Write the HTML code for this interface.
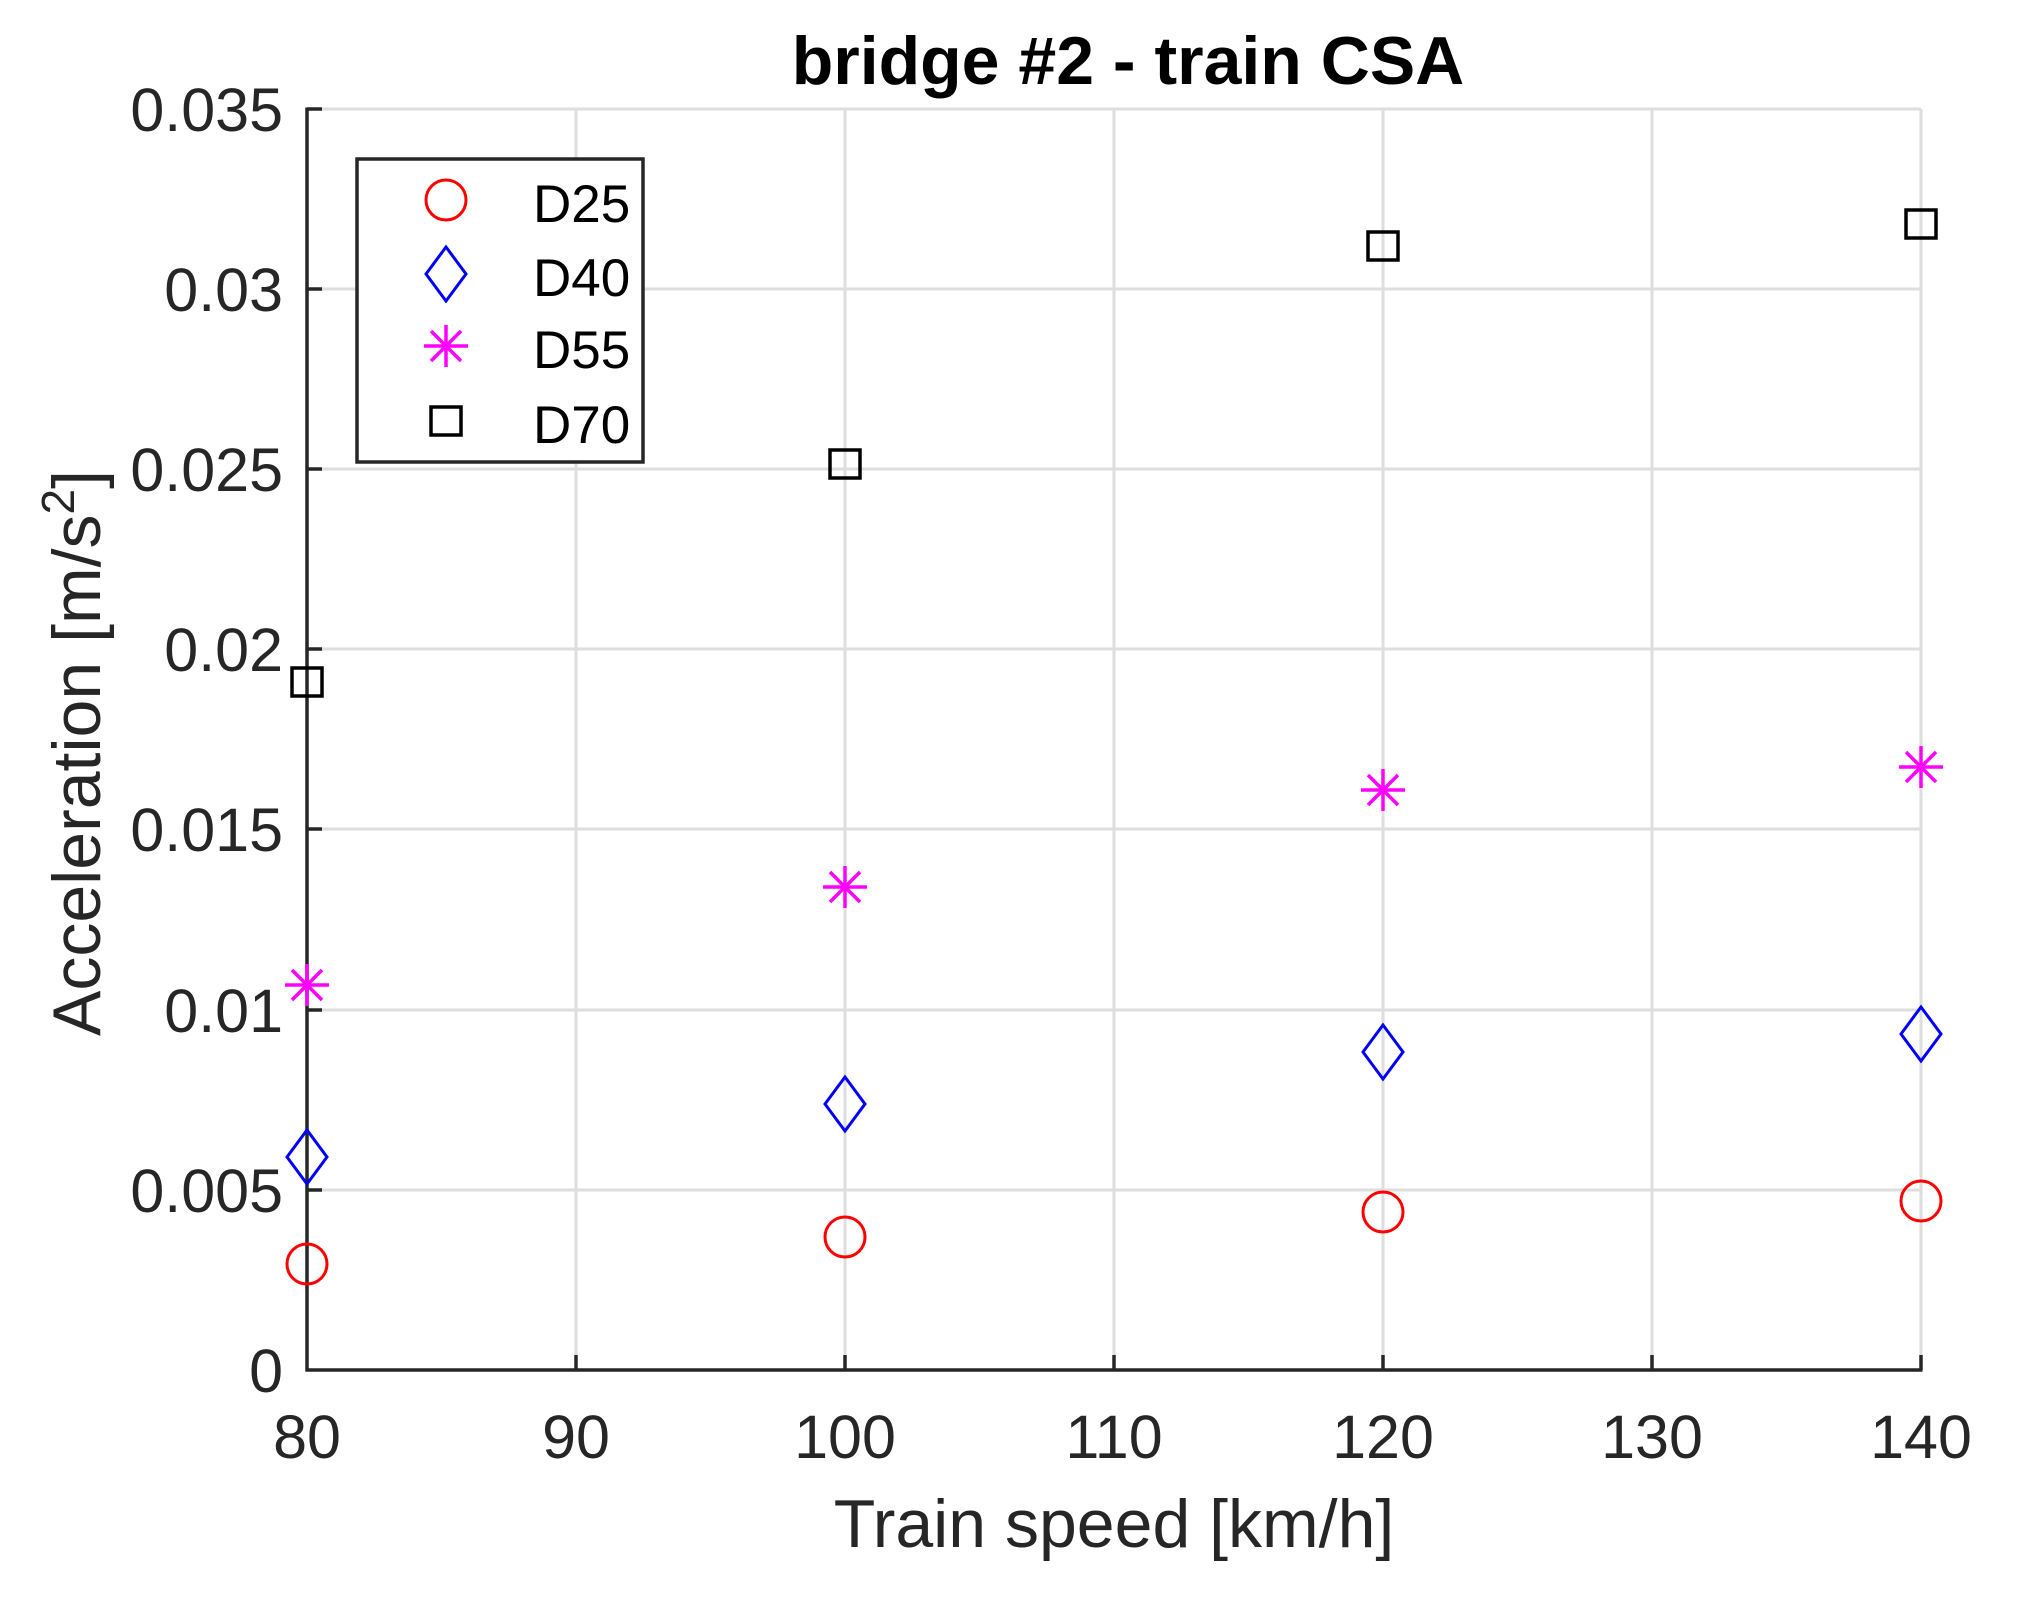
<!DOCTYPE html>
<html><head><meta charset="utf-8"><style>html,body{margin:0;padding:0;background:#fff}svg{display:block}</style></head>
<body>
<svg width="2033" height="1600" viewBox="0 0 2033 1600" xmlns="http://www.w3.org/2000/svg" font-family="Liberation Sans, Arial, sans-serif">
<defs>
<g id="circ"><circle cx="0" cy="0" r="20" fill="none" stroke="#ff0000" stroke-width="3"/></g>
<g id="dia"><path d="M0,-27 L20,0 L0,27 L-20,0 Z" fill="none" stroke="#0000ff" stroke-width="3"/></g>
<g id="star" stroke="#ff00ff" stroke-width="3.5"><line x1="-22" y1="0" x2="22" y2="0"/><line x1="0" y1="-21" x2="0" y2="21"/><line x1="-15" y1="-15" x2="15" y2="15"/><line x1="-15" y1="15" x2="15" y2="-15"/></g>
<g id="sq"><rect x="-15" y="-14" width="30" height="28" fill="none" stroke="#000" stroke-width="3.5"/></g>
</defs>
<rect width="2033" height="1600" fill="#fff"/>
<g stroke="#dedede" stroke-width="3">
<line x1="576" y1="109" x2="576" y2="1370"/><line x1="845" y1="109" x2="845" y2="1370"/><line x1="1114" y1="109" x2="1114" y2="1370"/><line x1="1383" y1="109" x2="1383" y2="1370"/><line x1="1652" y1="109" x2="1652" y2="1370"/><line x1="1921" y1="109" x2="1921" y2="1370"/>
<line x1="307" y1="1190" x2="1921" y2="1190"/><line x1="307" y1="1010" x2="1921" y2="1010"/><line x1="307" y1="829" x2="1921" y2="829"/><line x1="307" y1="649" x2="1921" y2="649"/><line x1="307" y1="469" x2="1921" y2="469"/><line x1="307" y1="289" x2="1921" y2="289"/><line x1="307" y1="109" x2="1921" y2="109"/>
</g>
<g stroke="#262626" stroke-width="3.5">
<line x1="307" y1="107.5" x2="307" y2="1371.5"/><line x1="305.5" y1="1370" x2="1922.5" y2="1370"/>
<line x1="307" y1="1190" x2="322" y2="1190"/><line x1="307" y1="1010" x2="322" y2="1010"/><line x1="307" y1="829" x2="322" y2="829"/><line x1="307" y1="649" x2="322" y2="649"/><line x1="307" y1="469" x2="322" y2="469"/><line x1="307" y1="289" x2="322" y2="289"/><line x1="307" y1="109" x2="322" y2="109"/>
<line x1="576" y1="1370" x2="576" y2="1355"/><line x1="845" y1="1370" x2="845" y2="1355"/><line x1="1114" y1="1370" x2="1114" y2="1355"/><line x1="1383" y1="1370" x2="1383" y2="1355"/><line x1="1652" y1="1370" x2="1652" y2="1355"/><line x1="1921" y1="1370" x2="1921" y2="1355"/>
</g>
<g font-size="61" fill="#262626" text-anchor="end">
<text x="283" y="1392">0</text><text x="283" y="1212">0.005</text><text x="283" y="1032">0.01</text><text x="283" y="851">0.015</text><text x="283" y="671">0.02</text><text x="283" y="491">0.025</text><text x="283" y="311">0.03</text><text x="283" y="131">0.035</text>
</g>
<g font-size="61" fill="#262626" text-anchor="middle">
<text x="307" y="1458">80</text><text x="576" y="1458">90</text><text x="845" y="1458">100</text><text x="1114" y="1458">110</text><text x="1383" y="1458">120</text><text x="1652" y="1458">130</text><text x="1921" y="1458">140</text>
</g>
<text x="1114" y="1547" font-size="68" fill="#262626" text-anchor="middle">Train speed [km/h]</text>
<text transform="translate(100,753) rotate(-90)" font-size="68" fill="#262626" text-anchor="middle">Acceleration [m/s<tspan font-size="46" dy="-26">2</tspan><tspan dy="26">]</tspan></text>
<text x="1128" y="84" font-size="68" font-weight="bold" fill="#000" text-anchor="middle">bridge #2 - train CSA</text>
<use href="#circ" x="307" y="1264"/><use href="#circ" x="845" y="1237"/><use href="#circ" x="1383" y="1212"/><use href="#circ" x="1921" y="1201"/>
<use href="#dia" x="307" y="1157"/><use href="#dia" x="845" y="1104"/><use href="#dia" x="1383" y="1052"/><use href="#dia" x="1921" y="1034"/>
<use href="#star" x="307" y="985"/><use href="#star" x="845" y="887"/><use href="#star" x="1383" y="790"/><use href="#star" x="1921" y="767"/>
<use href="#sq" x="307" y="682"/><use href="#sq" x="845" y="464"/><use href="#sq" x="1383" y="246"/><use href="#sq" x="1921" y="224"/>
<rect x="357" y="159" width="286" height="303" fill="#fff" stroke="#262626" stroke-width="3.5"/>
<use href="#circ" x="446" y="200"/><use href="#dia" x="446" y="274"/><use href="#star" x="446" y="346"/><use href="#sq" x="446" y="421"/>
<g font-size="53" fill="#000">
<text x="533" y="222">D25</text><text x="533" y="296">D40</text><text x="533" y="368">D55</text><text x="533" y="443">D70</text>
</g>
</svg>
</body></html>
